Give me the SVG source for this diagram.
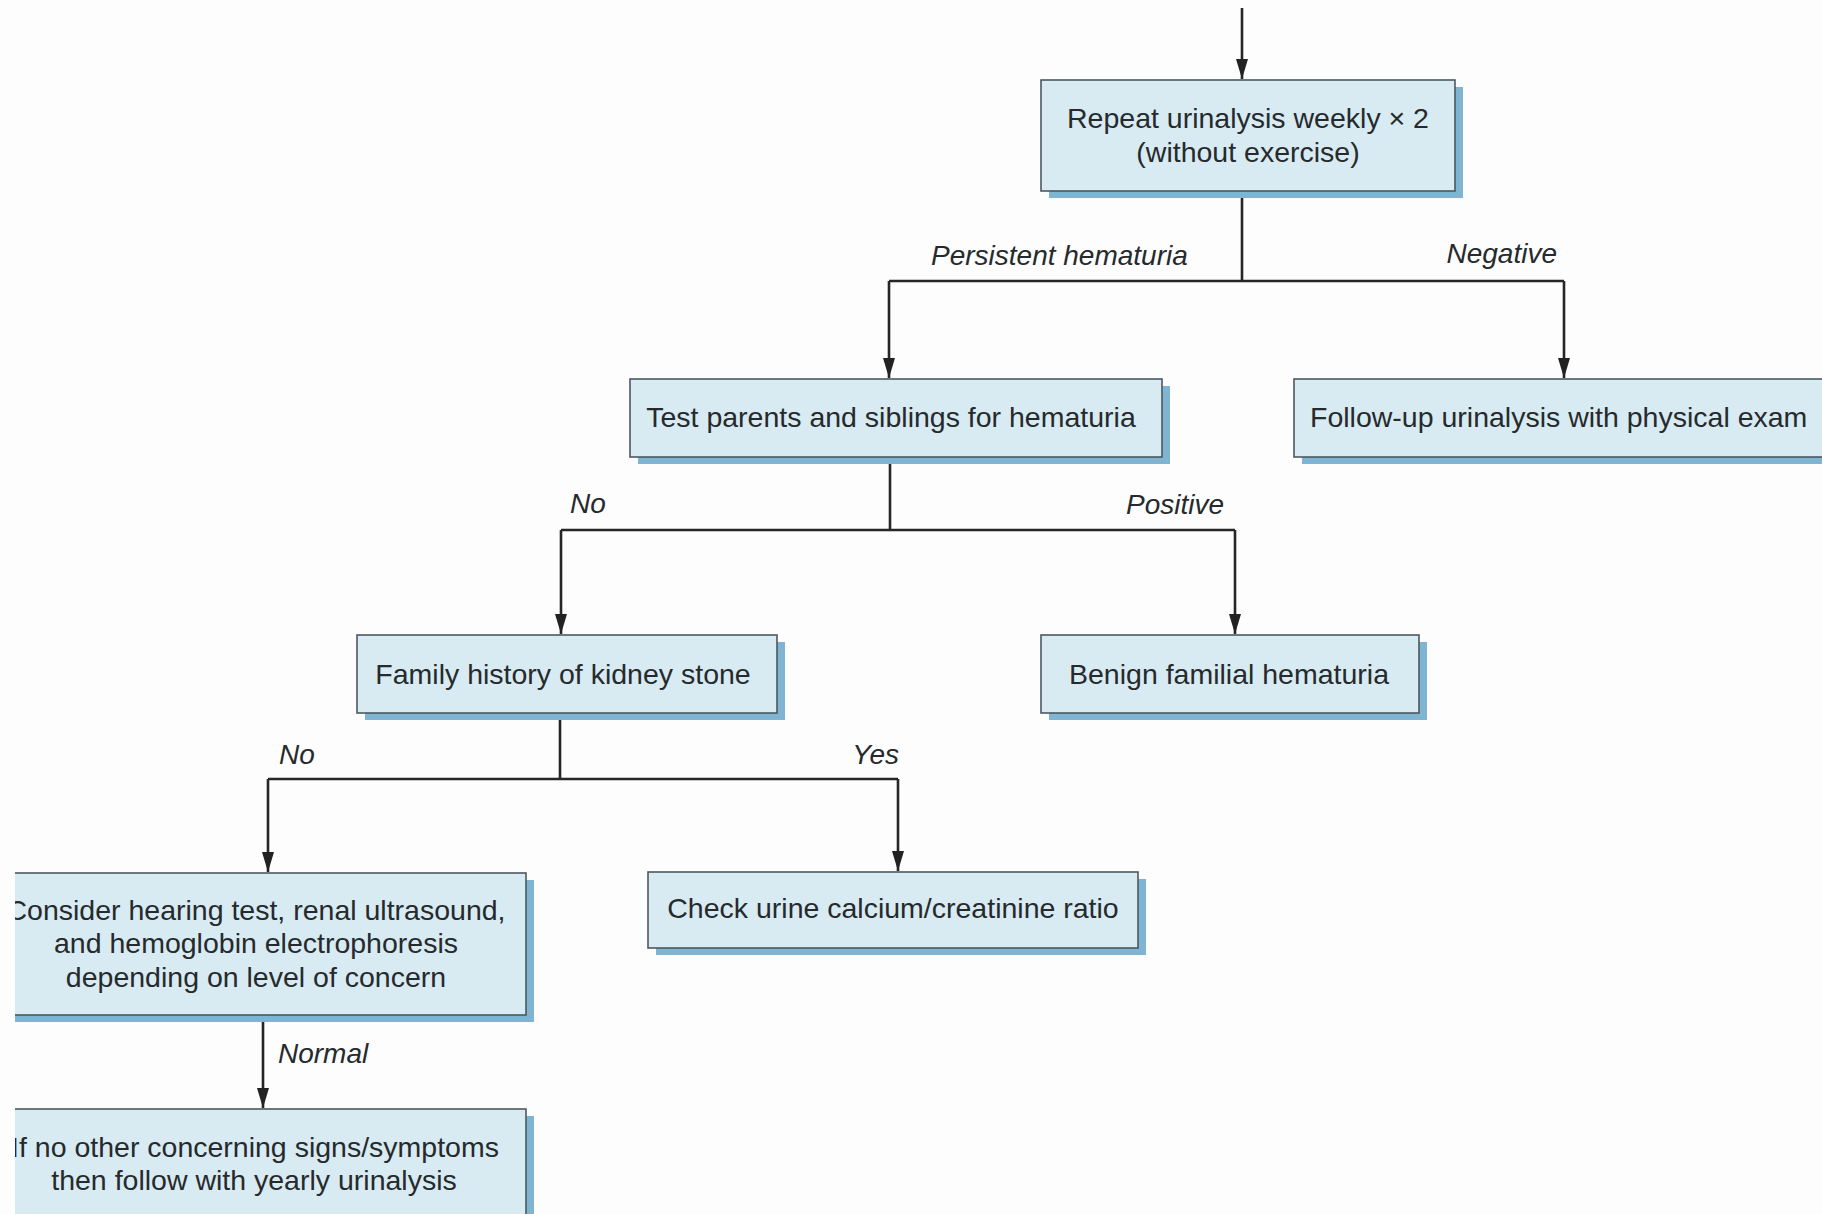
<svg xmlns="http://www.w3.org/2000/svg" width="1822" height="1214" viewBox="0 0 1822 1214">
<style>
.box{fill:#d8ebf3;stroke:#4c585e;stroke-width:1.6}
.shadow{fill:#7fb5d3}
.t{font-family:"Liberation Sans",Arial,sans-serif;font-size:28.5px;fill:#262a2c;text-anchor:middle}
.ts{font-family:"Liberation Sans",Arial,sans-serif;font-size:28.5px;fill:#262a2c;text-anchor:start}
.lbl{font-family:"Liberation Sans",Arial,sans-serif;font-size:28px;font-style:italic;fill:#262a2c}
.end{text-anchor:end}
.c{fill:none;stroke:#262626;stroke-width:2.6}
</style>
<defs>
<marker id="arr" markerUnits="userSpaceOnUse" markerWidth="22" markerHeight="14" refX="20" refY="7" orient="auto">
<path d="M0,1 L20,7 L0,13 z" fill="#222"/>
</marker>
<clipPath id="leftclip"><rect x="15" y="0" width="1807" height="1214"/></clipPath>
</defs>
<rect width="1822" height="1214" fill="#fdfdfd"/>

<g id="connectors">
<path class="c" d="M1242,8 V79" marker-end="url(#arr)"/>
<path class="c" d="M1242,191 V281"/>
<path class="c" d="M889,281 H1564"/>
<path class="c" d="M889,281 V378" marker-end="url(#arr)"/>
<path class="c" d="M1564,281 V378" marker-end="url(#arr)"/>
<path class="c" d="M890,457 V530"/>
<path class="c" d="M561,530 H1235"/>
<path class="c" d="M561,530 V634" marker-end="url(#arr)"/>
<path class="c" d="M1235,530 V634" marker-end="url(#arr)"/>
<path class="c" d="M560,713 V779"/>
<path class="c" d="M268,779 H898"/>
<path class="c" d="M268,779 V872" marker-end="url(#arr)"/>
<path class="c" d="M898,779 V871" marker-end="url(#arr)"/>
<path class="c" d="M263,1015 V1108" marker-end="url(#arr)"/>
<text class="lbl" x="931" y="265">Persistent hematuria</text>
<text class="lbl end" x="1557" y="263">Negative</text>
<text class="lbl" x="570" y="513">No</text>
<text class="lbl end" x="1224" y="514">Positive</text>
<text class="lbl" x="279" y="764">No</text>
<text class="lbl end" x="899" y="764">Yes</text>
<text class="lbl" x="278" y="1063">Normal</text>
</g>

<g id="n1">
<rect class="shadow" x="1049" y="87" width="414" height="111"/>
<rect class="box" x="1041" y="80" width="414" height="111"/>
<text class="t" x="1248" y="128">Repeat urinalysis weekly × 2</text>
<text class="t" x="1248" y="162">(without exercise)</text>
</g>

<g id="n2">
<rect class="shadow" x="638" y="386" width="532" height="78"/>
<rect class="box" x="630" y="379" width="532" height="78"/>
<text class="t" x="891" y="427">Test parents and siblings for hematuria</text>
</g>

<g id="n3">
<rect class="shadow" x="1302" y="386" width="540" height="78"/>
<rect class="box" x="1294" y="379" width="540" height="78"/>
<text class="ts" x="1310" y="427">Follow-up urinalysis with physical exam</text>
</g>

<g id="n4">
<rect class="shadow" x="365" y="642" width="420" height="78"/>
<rect class="box" x="357" y="635" width="420" height="78"/>
<text class="t" x="563" y="684">Family history of kidney stone</text>
</g>

<g id="n5">
<rect class="shadow" x="1049" y="642" width="378" height="78"/>
<rect class="box" x="1041" y="635" width="378" height="78"/>
<text class="t" x="1229" y="684">Benign familial hematuria</text>
</g>

<g id="n6" clip-path="url(#leftclip)">
<rect class="shadow" x="-6" y="880" width="540" height="142"/>
<rect class="box" x="-14" y="873" width="540" height="142"/>
<text class="t" x="256" y="920">Consider hearing test, renal ultrasound,</text>
<text class="t" x="256" y="953">and hemoglobin electrophoresis</text>
<text class="t" x="256" y="987">depending on level of concern</text>
</g>

<g id="n7">
<rect class="shadow" x="656" y="879" width="490" height="76"/>
<rect class="box" x="648" y="872" width="490" height="76"/>
<text class="t" x="893" y="918">Check urine calcium/creatinine ratio</text>
</g>

<g id="n8" clip-path="url(#leftclip)">
<rect class="shadow" x="-6" y="1116" width="540" height="140"/>
<rect class="box" x="-14" y="1109" width="540" height="140"/>
<text class="t" x="255" y="1157">If no other concerning signs/symptoms</text>
<text class="t" x="254" y="1190">then follow with yearly urinalysis</text>
</g>
</svg>
